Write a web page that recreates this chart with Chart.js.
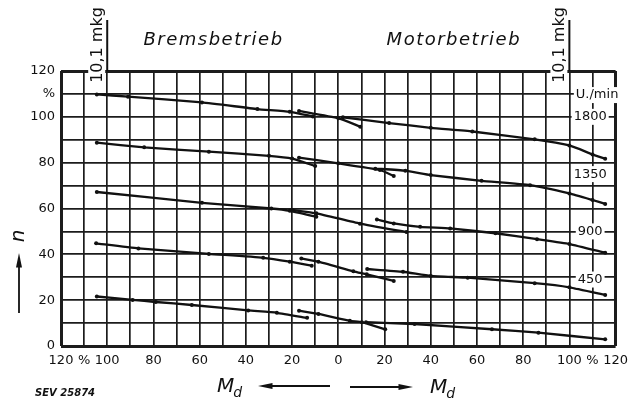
<!DOCTYPE html>
<html>
<head>
<meta charset="utf-8">
<script src="https://cdn.jsdelivr.net/npm/chart.js@4/dist/chart.umd.min.js"></script>
<style>
  html, body { margin: 0; padding: 0; background: #fff; }
  #wrap { width: 635px; height: 401px; position: relative; }
</style>
</head>
<body>
<div id="wrap"><canvas id="mainChart"></canvas></div>
<script>
// measured points [M_d %, n %]; negative M_d = Bremsbetrieb, positive = Motorbetrieb
// each speed has a brake run, a short run across zero and a motor run
const brake1800 = [[-104.5, 109.8], [-91, 108.8], [-59, 106.3], [-35, 103.4], [-21, 102.2], [-11, 100.2]];
const mid1800 = [[-17, 102.6], [0, 99.4], [9.5, 95.7]];
const motor1800 = [[2, 99.8], [22, 97.3], [40, 95.2], [58, 93.6], [85, 90.2], [100, 87.5], [110, 83.6], [115.5, 81.7]];

const brake1350 = [[-104.5, 88.7], [-84, 86.7], [-56, 84.8], [-30, 83], [-20, 81.8], [-10, 78.5]];
const mid1350 = [[-17, 82.2], [0, 79.7], [18, 76.8], [24, 74.2]];
const motor1350 = [[16, 77.4], [29, 76.5], [40, 74.6], [62, 72.1], [83, 70.2], [100, 66.6], [110, 63.7], [115.5, 62]];

const brake900 = [[-104.5, 67.2], [-59, 62.5], [-29, 60], [-21, 59], [-9.5, 56.4]];
const mid900 = [[-20, 59.4], [-9.5, 57.9], [9.4, 53.4], [29.5, 49.7]];
const motor900 = [[16.7, 55.2], [24, 53.5], [35.4, 52], [48.4, 51.3], [68, 49.2], [86, 46.6], [100, 44.5], [115.5, 40.7]];

const brake450 = [[-104.8, 44.8], [-86.5, 42.6], [-56, 40.2], [-32.5, 38.5], [-21, 36.8], [-11.5, 35]];
const mid450 = [[-16, 38.2], [-8.6, 36.8], [6.5, 32.6], [12.3, 31.3], [24, 28.4]];
const motor450 = [[12.5, 33.6], [28, 32.4], [40, 30.6], [56, 29.8], [85, 27.4], [100, 25.6], [115.5, 22.3]];

const brake0 = [[-104.5, 21.6], [-89, 20.1], [-79, 19.2], [-63.4, 17.9], [-39, 15.5], [-26.6, 14.5], [-13.5, 12.3]];
const mid0 = [[-17, 15.4], [-8.6, 14], [5, 11], [10.2, 10.4], [20.3, 7.3]];
const motor0 = [[12, 10.4], [33, 9.6], [66.5, 7.3], [86.6, 5.8], [115.5, 2.9]];

const rpmLabels = ["1800", "1350", "900", "450"];
const rpmLevels = [100, 75, 50, 29];

const INK = "#111";
const FONT = "'DejaVu Sans'";

const runs = [
  brake1800, mid1800, motor1800,
  brake1350, mid1350, motor1350,
  brake900, mid900, motor900,
  brake450, mid450, motor450,
  brake0, mid0, motor0
];

function arrow(ctx, x1, y1, x2, y2) {
  const ang = Math.atan2(y2 - y1, x2 - x1);
  ctx.lineWidth = 1.8;
  ctx.beginPath(); ctx.moveTo(x1, y1); ctx.lineTo(x2, y2); ctx.stroke();
  ctx.beginPath();
  ctx.moveTo(x2 + Math.cos(ang) * 6, y2 + Math.sin(ang) * 6);
  ctx.lineTo(x2 + Math.cos(ang + 2.8) * 9, y2 + Math.sin(ang + 2.8) * 9);
  ctx.lineTo(x2 + Math.cos(ang - 2.8) * 9, y2 + Math.sin(ang - 2.8) * 9);
  ctx.closePath(); ctx.fill();
}

function md(ctx, left, base) {
  ctx.textAlign = "left"; ctx.textBaseline = "alphabetic";
  ctx.font = "italic 20px " + FONT;
  ctx.fillText("M", left, base);
  const w = ctx.measureText("M").width;
  ctx.font = "italic 14px " + FONT;
  ctx.fillText("d", left + w - 1, base + 5);
}

/* notes printed around the grid */
const paperNotes = {
  id: "paperNotes",
  afterDraw(chart) {
    const { ctx, chartArea: a, scales: { x, y } } = chart;
    ctx.save();
    ctx.fillStyle = INK; ctx.strokeStyle = INK;

    ctx.font = "italic 18px " + FONT;
    ctx.letterSpacing = "1.5px";
    ctx.textAlign = "center"; ctx.textBaseline = "middle";
    ctx.fillText("Bremsbetrieb", x.getPixelForValue(-54), a.top - 31);
    ctx.fillText("Motorbetrieb", x.getPixelForValue(50), a.top - 31);
    ctx.letterSpacing = "0px";

    // 10,1 mkg marks at +-100 %
    for (const v of [-100, 100]) {
      const px = x.getPixelForValue(v);
      ctx.fillStyle = "#fff";
      ctx.fillRect(px - 19, 6, 17, 78);
      ctx.fillStyle = INK;
      ctx.lineWidth = 2;
      ctx.beginPath(); ctx.moveTo(px, a.top); ctx.lineTo(px, 20); ctx.stroke();
      ctx.save();
      ctx.translate(px - 5, 45);
      ctx.rotate(-Math.PI / 2);
      ctx.font = "16px " + FONT;
      ctx.textAlign = "center"; ctx.textBaseline = "alphabetic";
      ctx.fillText("10,1 mkg", 0, 0);
      ctx.restore();
    }

    // speed labels inside the grid
    ctx.font = "13px " + FONT;
    ctx.textAlign = "center"; ctx.textBaseline = "middle";
    const boxed = (t, px, py) => {
      const w = ctx.measureText(t).width;
      ctx.fillStyle = "#fff"; ctx.fillRect(px - w / 2 - 2, py - 8, w + 4, 16);
      ctx.fillStyle = INK; ctx.fillText(t, px, py);
    };
    boxed("U./min", x.getPixelForValue(112), y.getPixelForValue(109.5));
    rpmLabels.forEach((t, i) => boxed(t, x.getPixelForValue(109), y.getPixelForValue(rpmLevels[i])));

    // n axis
    ctx.save();
    ctx.translate(24, 236);
    ctx.rotate(-Math.PI / 2);
    ctx.font = "italic 20px " + FONT;
    ctx.textAlign = "center"; ctx.textBaseline = "alphabetic";
    ctx.fillText("n", 0, 0);
    ctx.restore();
    arrow(ctx, 19, 313, 19, 259);

    // M_d arrows
    md(ctx, 217, 392);
    arrow(ctx, 330, 386, 264, 386);
    arrow(ctx, 350, 387, 407, 387);
    md(ctx, 430, 393);

    ctx.font = "bold italic 10px " + FONT;
    ctx.textAlign = "left";
    ctx.fillText("SEV 25874", 35, 396);
    ctx.restore();
  }
};

new Chart(document.getElementById("mainChart"), {
  type: "scatter",
  data: {
    datasets: runs.map(r => ({
      data: r.map(([mx, n]) => ({ x: mx, y: n })),
      showLine: true,
      borderColor: INK,
      borderWidth: 2.3,
      tension: 0.15,
      pointRadius: 2,
      pointBackgroundColor: INK,
      pointBorderWidth: 0
    }))
  },
  options: {
    responsive: true,
    maintainAspectRatio: false,
    animation: false,
    layout: { padding: { top: 71, right: 19, left: 0, bottom: 0 } },
    plugins: { legend: { display: false }, tooltip: { enabled: false } },
    scales: {
      x: {
        type: "linear",
        min: -120, max: 120,
        afterFit: s => { s.height = 55; },
        ticks: {
          stepSize: 10, autoSkip: false, maxRotation: 0, padding: 7,
          color: INK, font: { family: "DejaVu Sans", size: 13 },
          callback: v => (Math.abs(v) === 110 ? "%" : v % 20 === 0 ? String(Math.abs(v)) : "")
        },
        grid: {
          color: "#1c1c1c", drawTicks: false,
          lineWidth: c => (c.tick && Math.abs(c.tick.value) === 120 ? 3 : 1.7)
        },
        border: { display: false }
      },
      y: {
        min: 0, max: 120,
        afterFit: s => { s.width = 61; },
        ticks: {
          stepSize: 10, autoSkip: false, padding: 6,
          color: INK, font: { family: "DejaVu Sans", size: 13 },
          callback: v => (v === 110 ? "%" : v % 20 === 0 ? String(v) : "")
        },
        grid: {
          color: "#1c1c1c", drawTicks: false,
          lineWidth: c => (c.tick && (c.tick.value === 0 || c.tick.value === 120) ? 3 : 1.7)
        },
        border: { display: false }
      }
    }
  },
  plugins: [paperNotes]
});
</script>
</body>
</html>
